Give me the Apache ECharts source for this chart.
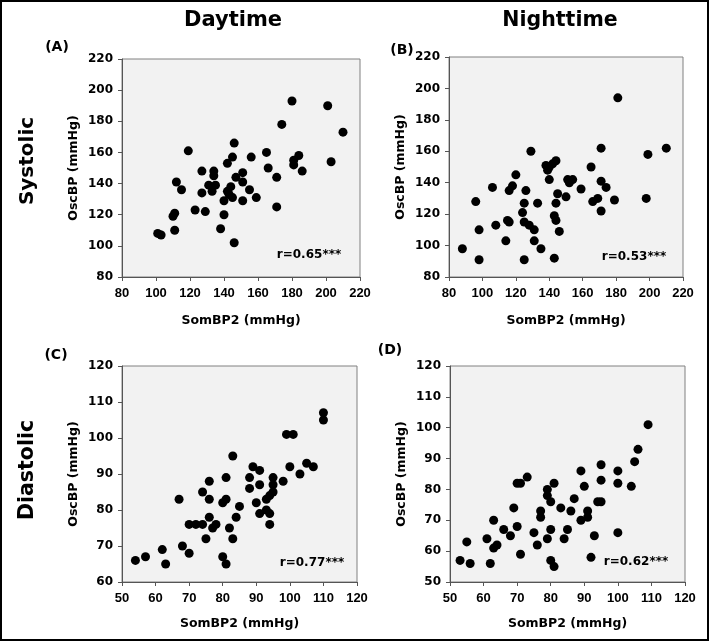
<!DOCTYPE html>
<html>
<head>
<meta charset="utf-8">
<script src="https://cdn.jsdelivr.net/npm/echarts@6/dist/echarts.min.js"></script>
<style>html,body{margin:0;padding:0;background:#fff;}#c{width:709px;height:641px;}</style>
</head>
<body>
<div id="c"></div>
<script>
// Panel A: Daytime systolic [SomBP2, OscBP]
var dataA = [[101,108],[103,107],[111,110],[110,119],[111,121],[112,141],[115,136],[119,161],[123,123],[127,148],[127,134],[129,122],[134,148],[134,145],[131,139],[135,139],[133,135],[138,111],[140,129],[140,120],[142,153],[145,157],[146,166],[147,144],[144,138],[142,135],[143,133],[145,131],[146,102],[151,147],[151,141],[151,129],[155,136],[156,157],[159,131],[165,160],[166,150],[171,144],[171,125],[174,178],[180,193],[181,155],[181,152],[184,158],[186,148],[201,190],[203,154],[210,173]];
// Panel B: Nighttime systolic
var dataB = [[88,98],[96,128],[98,110],[98,91],[106,137],[108,113],[114,103],[115,116],[116,115],[116,135],[118,138],[120,145],[124,121],[125,127],[125,115],[126,135],[125,91],[129,160],[128,113],[131,110],[131,103],[133,127],[135,98],[138,151],[139,148],[140,150],[142,152],[144,154],[140,142],[143,119],[144,116],[144,127],[145,133],[146,109],[143,92],[150,131],[151,142],[152,140],[154,142],[159,136],[165,150],[166,128],[169,130],[171,162],[171,141],[171,122],[174,137],[179,129],[181,194],[198,130],[199,158],[210,162]];
// Panel C: Daytime diastolic
var dataC = [[54,66],[57,67],[62,69],[63,65],[67,83],[68,70],[70,68],[70,76],[72,76],[74,76],[74,85],[75,72],[76,88],[76,83],[76,78],[77,75],[78,76],[80,67],[81,65],[80,82],[81,83],[81,89],[82,75],[83,72],[83,95],[84,78],[85,81],[88,89],[88,86],[89,92],[91,91],[90,82],[91,87],[91,79],[93,83],[94,84],[93,80],[94,79],[94,76],[95,89],[95,87],[95,85],[98,88],[99,101],[101,101],[100,92],[103,90],[105,93],[107,92],[110,107],[110,105]];
// Panel D: Nighttime diastolic
var dataD = [[53,57],[55,63],[56,56],[61,64],[62,56],[63,70],[63,61],[64,62],[66,67],[68,65],[69,74],[70,68],[70,82],[71,82],[71,59],[73,84],[75,66],[76,62],[77,73],[77,71],[79,80],[79,78],[80,76],[79,64],[80,67],[80,57],[81,55],[81,82],[83,74],[84,64],[85,67],[86,73],[87,77],[89,86],[89,70],[90,81],[91,73],[91,71],[93,65],[92,58],[94,76],[95,76],[95,88],[95,83],[100,86],[100,82],[100,66],[104,81],[105,89],[106,93],[109,101]];

var panelLabels = ['(A)','(B)','(C)','(D)'];
var rLabels = ['r=0.65***','r=0.53***','r=0.77***','r=0.62***'];
var columnTitles = ['Daytime','Nighttime'];
var rowTitles = ['Systolic','Diastolic'];
var xTitle = 'SomBP2 (mmHg)';
var yTitle = 'OscBP (mmHg)';
var sysRange = [80, 220, 20];
var diaRange = [50, 120, 10];
var diaYRangeC = [60, 120, 10];

var FONT = 'Liberation Sans, Arial, sans-serif';
var WIDE = 'DejaVu Sans, sans-serif';
var grids = [
  {left:122, top:59, width:238, height:218},
  {left:449, top:57, width:234, height:220},
  {left:122, top:366, width:235, height:216},
  {left:450, top:366, width:235, height:216}
];
var nameGapsX = [37, 37, 35, 35];
var ranges = [
  {x:sysRange, y:sysRange},
  {x:sysRange, y:sysRange},
  {x:diaRange, y:diaYRangeC},
  {x:diaRange, y:diaRange}
];
var datasets = [dataA, dataB, dataC, dataD];

function axisCommon(r){
  return {
    type:'value', min:r[0], max:r[1], interval:r[2],
    splitLine:{show:false},
    axisLine:{show:true, onZero:false, lineStyle:{color:'#555', width:1}},
    axisTick:{show:true, inside:false, length:4, lineStyle:{color:'#555'}},
    nameTextStyle:{color:'#000', fontFamily:WIDE, fontWeight:'bold', fontSize:12.5},
    nameLocation:'middle'
  };
}

var xAxes = [], yAxes = [], series = [];
for (var i=0;i<4;i++){
  var xa = axisCommon(ranges[i].x);
  xa.gridIndex = i; xa.name = xTitle; xa.nameGap = nameGapsX[i];
  xa.axisLabel = {color:'#000', fontFamily:FONT, fontWeight:'bold', fontSize:13, margin:10};
  xAxes.push(xa);
  var ya = axisCommon(ranges[i].y);
  ya.gridIndex = i; ya.name = yTitle; ya.nameGap = 42;
  ya.axisLabel = {color:'#000', fontFamily:WIDE, fontWeight:'bold', fontSize:12, margin:9};
  yAxes.push(ya);
  series.push({
    type:'scatter', xAxisIndex:i, yAxisIndex:i, data:datasets[i],
    symbol:'circle', symbolSize:9, itemStyle:{color:'#000', opacity:1},
    silent:true, animation:false
  });
}

var gridOpts = grids.map(function(g){
  return {left:g.left, top:g.top, width:g.width, height:g.height, show:true,
    backgroundColor:'#f2f2f2', borderColor:'#808080', borderWidth:1, containLabel:false};
});

function txt(x,y,t,size,rot,fam){
  var o = {type:'text', x:x, y:y, style:{text:t, fill:'#000', font:'bold '+size+'px '+(fam||WIDE), textAlign:'center', textVerticalAlign:'middle'}, silent:true};
  if (rot) { o.rotation = rot; }
  return o;
}

var graphics = [
  {type:'rect', shape:{x:1, y:1, width:707, height:639}, style:{fill:'none', stroke:'#000', lineWidth:2}, silent:true},
  txt(233,21,columnTitles[0],21),
  txt(560,21,columnTitles[1],20.5),
  txt(28,161,rowTitles[0],20),
  txt(28,470,rowTitles[1],20.5),
  txt(57,47,panelLabels[0],14),
  txt(402,50,panelLabels[1],14),
  txt(56,355,panelLabels[2],14),
  txt(390,350,panelLabels[3],14),
  txt(309,255,rLabels[0],12),
  txt(634,257,rLabels[1],12),
  txt(312,563,rLabels[2],12),
  txt(636,562,rLabels[3],12)
];
graphics[3].rotation = Math.PI/2;
graphics[4].rotation = Math.PI/2;

var chart = echarts.init(document.getElementById('c'), null, {renderer:'canvas'});
chart.setOption({
  backgroundColor:'#fff',
  animation:false,
  grid:gridOpts,
  xAxis:xAxes,
  yAxis:yAxes,
  series:series,
  graphic:graphics
});
</script>
</body>
</html>
